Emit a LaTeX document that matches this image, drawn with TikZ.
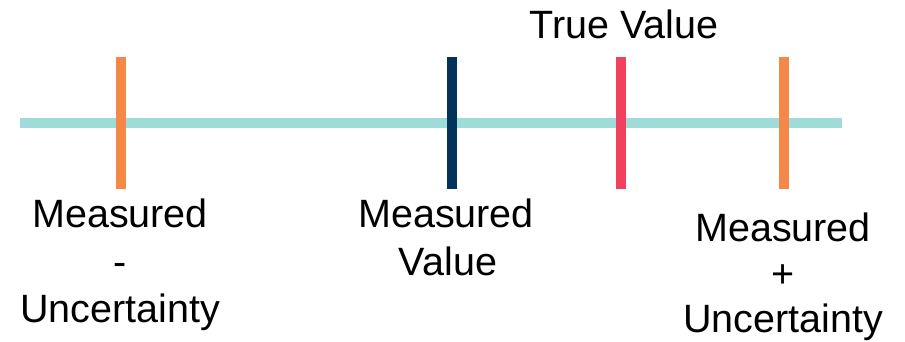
\documentclass[tikz,border=0pt]{standalone}
\usepackage{fontspec}
\setmainfont{Liberation Sans}
\definecolor{axisteal}{HTML}{9EDBD9}
\definecolor{tickorange}{HTML}{F58747}
\definecolor{tickblue}{HTML}{03335A}
\definecolor{tickred}{HTML}{F2405F}
\begin{document}
\begin{tikzpicture}[x=1pt,y=-1pt,
  axisline/.style={line width=10pt,draw=axisteal},
  tickline/.style={line width=10pt},
  lbl/.style={anchor=base,inner sep=0pt,font=\fontsize{39.5}{46}\selectfont}]
\useasboundingbox (0,0) rectangle (905,342);
\coordinate (axL) at (20,123.3);
\coordinate (axR) at (842,123.3);
\draw[axisline] (axL) -- (axR);
\coordinate (t1a) at (120.5,56.7); \coordinate (t1b) at (120.5,189.3);
\coordinate (t2a) at (452,56.7);   \coordinate (t2b) at (452,189.3);
\coordinate (t3a) at (620.7,56.7); \coordinate (t3b) at (620.7,189.3);
\coordinate (t4a) at (784,56.7);   \coordinate (t4b) at (784,189.3);
\draw[tickline,draw=tickorange] (t1a) -- (t1b);
\draw[tickline,draw=tickblue] (t2a) -- (t2b);
\draw[tickline,draw=tickred] (t3a) -- (t3b);
\draw[tickline,draw=tickorange] (t4a) -- (t4b);
\node[lbl] (tv) at (624,38.3) {True Value};
\node[lbl] (l1) at (120,227.7) {Measured};
\node[lbl] (l2) at (120,275) {-};
\node[lbl] (l3) at (120,322.7) {Uncertainty};
\node[lbl] (m1) at (446,227.7) {Measured};
\node[lbl] (m2) at (448,275) {Value};
\node[lbl] (r1) at (783,241.7) {Measured};
\node[lbl] (r2) at (783,287.2) {+};
\node[lbl] (r3) at (783,332.7) {Uncertainty};
\end{tikzpicture}
\end{document}
